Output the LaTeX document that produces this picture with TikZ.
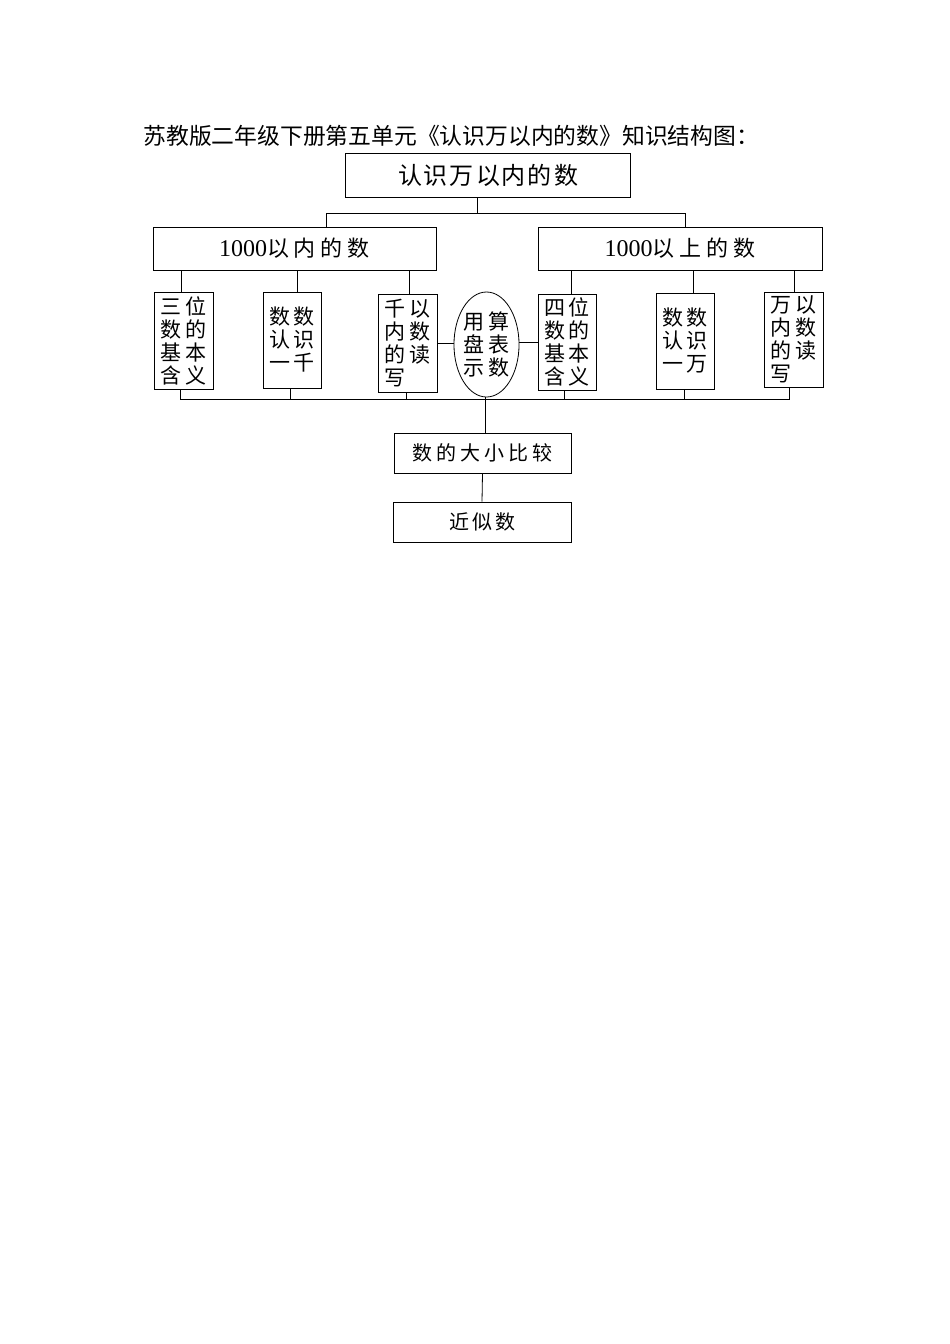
\documentclass[tikz,border=0pt]{standalone}
\usepackage{fontspec}
\setmainfont{Liberation Serif}
\newfontfamily\cjk{Noto Sans CJK SC}
\usetikzlibrary{shapes.geometric}
\newcommand{\cpr}[2]{#1\hspace{4pt}#2}
\newcommand{\gp}[1]{\hspace{#1pt}}
\begin{document}
\begin{tikzpicture}[x=1pt,y=-1pt,
  line width=0.8pt,
  box/.style={draw, line width=0.8pt, inner sep=0pt, align=center},
  small/.style={box, minimum width=59, minimum height=97, align=left,
    font=\cjk\fontsize{21}{23}\selectfont},
  big/.style={box, font=\fontsize{24}{24}\selectfont},
  low/.style={box, minimum width=177, minimum height=40, font=\cjk\fontsize{20}{20}\selectfont}]
\useasboundingbox[fill=white] (0,0) rectangle (950,1344);

\node[anchor=west, inner sep=0pt, font=\cjk\fontsize{22.8}{23}\selectfont] (title) at (143,136)
  {苏教版二年级下册第五单元《认识万以内的数》知识结构图：};

\node[box, minimum width=285, minimum height=44, font=\cjk\fontsize{24}{24}\selectfont] (top) at (488,175)
  {认\gp2识\gp2万\gp2以\gp2内\gp2的\gp2数};
\node[big, minimum width=283, minimum height=43] (left) at (294.5,248.5)
  {1000{\cjk\fontsize{22}{22}\selectfont 以\gp5内\gp5的\gp5数}};
\node[big, minimum width=284, minimum height=43] (right) at (680,248.5)
  {1000{\cjk\fontsize{22}{22}\selectfont 以\gp5上\gp5的\gp5数}};

\coordinate (tb) at (326,213);
\coordinate (te) at (685,213);
\draw ([xshift=-11]top.south) -- ([xshift=-11]top.south |- tb);
\draw (left.north -| tb) -- (tb) -- (te) -- (right.north -| te);

\node[small] (b1) at (183.5,340.5) {\cpr{三}{位}\\\cpr{数}{的}\\\cpr{基}{本}\\\cpr{含}{义}};
\node[small, minimum width=58, minimum height=96] (b2) at (292,340) {\cpr{数}{数}\\\cpr{认}{识}\\\cpr{一}{千}};
\node[small, minimum height=98] (b3) at (407.5,343) {\cpr{千}{以}\\\cpr{内}{数}\\\cpr{的}{读}\\写};
\node[draw, ellipse, inner sep=0pt, minimum width=61, minimum height=105, align=center,
  font=\cjk\fontsize{21}{23}\selectfont] (ell) at (486.5,344.5) {\cpr{用}{算}\\\cpr{盘}{表}\\\cpr{示}{数}};
\node[small, minimum width=58, minimum height=96] (b4) at (567,342) {\cpr{四}{位}\\\cpr{数}{的}\\\cpr{基}{本}\\\cpr{含}{义}};
\node[small, minimum width=58, minimum height=96] (b5) at (685,341) {\cpr{数}{数}\\\cpr{认}{识}\\\cpr{一}{万}};
\node[small, minimum height=95] (b6) at (793.5,339.5) {\cpr{万}{以}\\\cpr{内}{数}\\\cpr{的}{读}\\写};

% up connectors
\draw ([xshift=-2.5]b1.north) -- ([xshift=-2.5]b1.north |- left.south);
\draw ([xshift=5]b2.north) -- ([xshift=5]b2.north |- left.south);
\draw ([xshift=1.5]b3.north) -- ([xshift=1.5]b3.north |- left.south);
\draw ([xshift=4]b4.north) -- ([xshift=4]b4.north |- right.south);
\draw ([xshift=8]b5.north) -- ([xshift=8]b5.north |- right.south);
\draw ([xshift=0.5]b6.north) -- ([xshift=0.5]b6.north |- right.south);

% side connectors to ellipse
\draw (b3.east) -- (b3.east -| ell.west);
\draw (b4.west) -- (b4.west -| ell.east);

% bottom bus
\coordinate (busR) at (789,399);
\draw ([xshift=-3.5]b1.south) |- (busR) -- (b6.south -| busR);
\draw ([xshift=-2]b2.south) -- ([xshift=-2]b2.south |- busR);
\draw ([xshift=-1.5]b3.south) -- ([xshift=-1.5]b3.south |- busR);
\draw ([xshift=-3]b4.south) -- ([xshift=-3]b4.south |- busR);
\draw ([xshift=-1]b5.south) -- ([xshift=-1]b5.south |- busR);

\node[low] (cmp) at (482.5,453) {数\gp4的\gp4大\gp4小\gp4比\gp4较};
\node[low, minimum width=178] (approx) at (482,522) {近\gp3似\gp3数};
\draw ([xshift=2.5]cmp.north) -- ([xshift=2.5]cmp.north |- ell.south);
\draw (cmp.south) -- (approx.north);
\end{tikzpicture}
\end{document}
